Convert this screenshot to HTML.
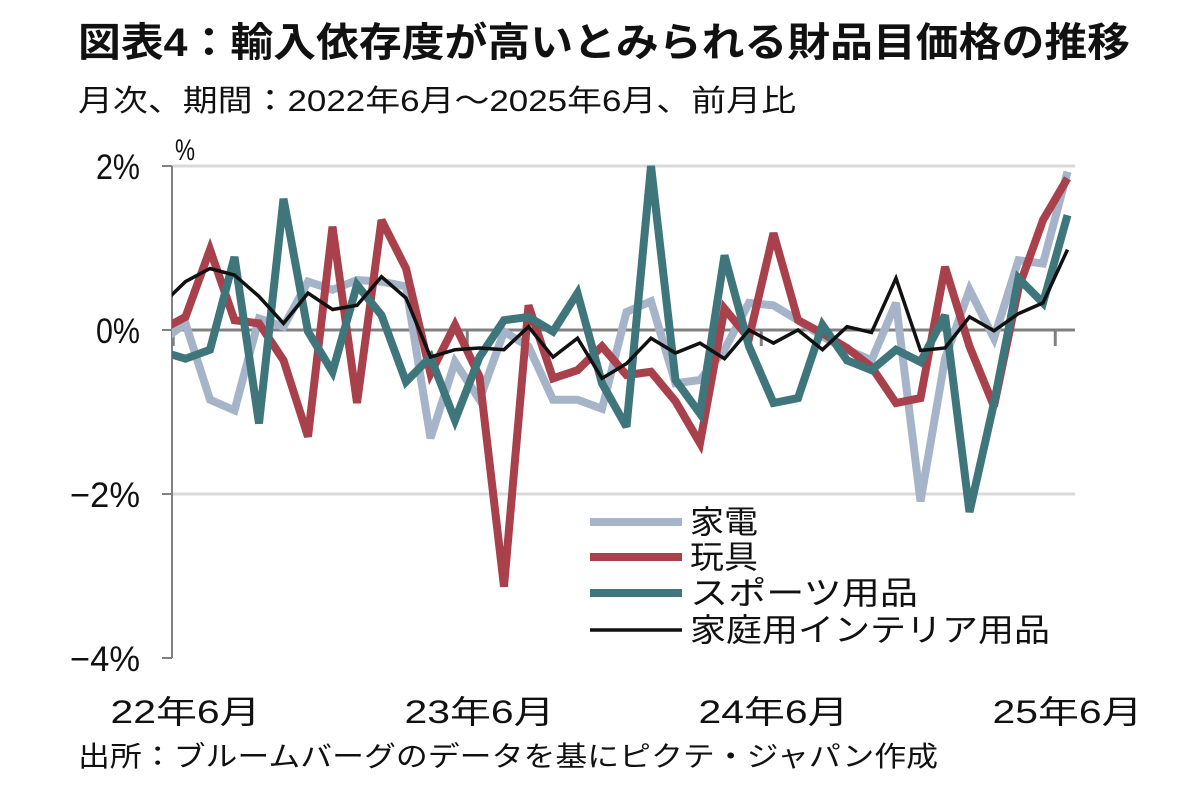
<!DOCTYPE html>
<html><head><meta charset="utf-8"><style>
html,body{margin:0;padding:0;background:#fff;}
svg text{font-family:"Liberation Sans","Noto Sans CJK JP",sans-serif;fill:#111;}
</style></head><body>
<svg id="chart" width="1182" height="793" viewBox="0 0 1182 793" xmlns="http://www.w3.org/2000/svg">
<text x="78" y="56" font-size="40" font-weight="bold" textLength="1052" lengthAdjust="spacingAndGlyphs">図表4：輸入依存度が高いとみられる財品目価格の推移</text>
<text x="78" y="111" font-size="30" textLength="718" lengthAdjust="spacingAndGlyphs">月次、期間：2022年6月～2025年6月、前月比</text>
<text x="175" y="160" font-size="30" textLength="20" lengthAdjust="spacingAndGlyphs">%</text>
<g id="grid"></g>
<g id="series"></g>
<g id="legend"></g>
<text x="78" y="766" font-size="28" textLength="860" lengthAdjust="spacingAndGlyphs">出所：ブルームバーグのデータを基にピクテ・ジャパン作成</text>
</svg>
<script>
// 22年5月 .. 25年6月 (first point clipped at axis)
const months = 38;
const yTicks = [2, 0, -2, -4];
const yTickLabels = ["2%", "0%", "−2%", "−4%"];
const xLabels = ["22年6月", "23年6月", "24年6月", "25年6月"];
const xLabelIndex = [1, 13, 25, 37];
const seriesNames = ["家電", "玩具", "スポーツ用品", "家庭用インテリア用品"];
const appliances = [-0.14,0.08,-0.85,-0.98,0.14,0.04,0.59,0.49,0.61,0.59,0.53,-1.32,-0.39,-0.85,-0.02,-0.2,-0.85,-0.85,-0.96,0.22,0.35,-0.65,-0.61,-0.24,0.33,0.3,0.12,-0.08,-0.24,-0.37,0.33,-2.09,-0.35,0.49,-0.1,0.85,0.81,1.93];
const toys = [0,0.16,0.98,0.12,0.08,-0.37,-1.3,1.26,-0.89,1.34,0.75,-0.53,0.06,-0.57,-3.13,0.3,-0.59,-0.49,-0.2,-0.55,-0.51,-0.87,-1.38,0.26,-0.1,1.18,0.12,-0.04,-0.22,-0.45,-0.89,-0.83,0.77,-0.2,-0.93,0.51,1.34,1.85];
const sports = [-0.26,-0.35,-0.24,0.89,-1.14,1.6,-0.02,-0.51,0.55,0.18,-0.63,-0.33,-1.1,-0.33,0.12,0.16,-0.02,0.45,-0.65,-1.18,2.0,-0.61,-1.02,0.91,-0.2,-0.89,-0.83,0.06,-0.37,-0.49,-0.24,-0.39,0.18,-2.22,-0.89,0.63,0.33,1.4];
const interior = [0.3,0.59,0.75,0.67,0.41,0.08,0.45,0.25,0.3,0.65,0.39,-0.33,-0.24,-0.22,-0.24,0.04,-0.33,-0.1,-0.59,-0.41,-0.1,-0.28,-0.16,-0.35,0,-0.16,0,-0.24,0.04,-0.03,0.63,-0.25,-0.22,0.16,-0.01,0.2,0.33,0.98];

const NS = "http://www.w3.org/2000/svg";
const X0 = 161, STEP = 24.5, AXL = 172, AXR = 1075;
const xs = i => X0 + STEP * i;
const ys = v => 330 - 82 * v;
function mk(tag, attrs, parent) { const e = document.createElementNS(NS, tag); for (const k in attrs) e.setAttribute(k, attrs[k]); parent.appendChild(e); return e; }
const grid = document.getElementById("grid");
const ser = document.getElementById("series");
const leg = document.getElementById("legend");

const defs = mk("defs", {}, grid);
const cp = mk("clipPath", {id: "plotclip"}, defs);
mk("rect", {x: AXL, y: 150, width: 920, height: 520}, cp);

const yLabW = [44, 44, 70, 70];
yTicks.forEach((v, i) => {
  if (v !== 0 && v !== -4) {
    const g = mk("line", {x1: AXL, x2: AXR, y1: ys(v), y2: ys(v), stroke: "#d9d9d9", "stroke-width": 3}, grid);
    
    
  }
  const t = mk("line", {x1: AXL - 10, x2: AXL, y1: ys(v), y2: ys(v), stroke: "#808080", "stroke-width": 2}, grid);
  
  
  const lab = mk("text", {x: 140, y: ys(v) + 13, "font-size": 35, "text-anchor": "end", textLength: yLabW[i], lengthAdjust: "spacingAndGlyphs"}, grid);
  lab.textContent = yTickLabels[i];
  
  
});
const yax = mk("line", {x1: AXL, x2: AXL, y1: ys(2), y2: ys(-4), stroke: "#808080", "stroke-width": 2}, grid);


const zl = mk("line", {x1: AXL, x2: AXR, y1: ys(0), y2: ys(0), stroke: "#808080", "stroke-width": 3}, grid);


xLabelIndex.forEach((idx, i) => {
  const tx = xs(idx) - STEP / 2;
  const tk = mk("line", {x1: tx, x2: tx, y1: ys(0), y2: ys(0) + 16, stroke: "#808080", "stroke-width": 3}, grid);
  
  
  const lab = mk("text", {x: xs(idx), y: 723, "font-size": 32, "text-anchor": "middle", textLength: 150, lengthAdjust: "spacingAndGlyphs"}, grid);
  lab.textContent = xLabels[i];
  
  
});

const datasets = [appliances, toys, sports, interior];
const colors = ["#a5b4c8", "#a8414b", "#3f767b", "#111111"];
const widths = [8, 8, 8, 3.5];
const names = ["line-appliances", "line-toys", "line-sports", "line-interior"];
datasets.forEach((d, s) => {
  const pts = d.map((v, i) => xs(i).toFixed(1) + "," + ys(v).toFixed(1)).join(" ");
  const pl = mk("polyline", {points: pts, fill: "none", stroke: colors[s], "stroke-width": widths[s], "stroke-linejoin": "miter", "stroke-miterlimit": 3, "clip-path": "url(#plotclip)"}, ser);
  
  
});

const legY = [522, 557, 593, 630];
seriesNames.forEach((n, s) => {
  const l = mk("line", {x1: 590, x2: 682, y1: legY[s], y2: legY[s], stroke: colors[s], "stroke-width": widths[s]}, leg);
  
  
  const t = mk("text", {x: 690, y: legY[s] + 11, "font-size": 32, textLength: s === 0 ? 68 : s === 1 ? 68 : s === 2 ? 228 : 360, lengthAdjust: "spacingAndGlyphs"}, leg);
  t.textContent = n;
  
  
});
</script>
</body></html>
